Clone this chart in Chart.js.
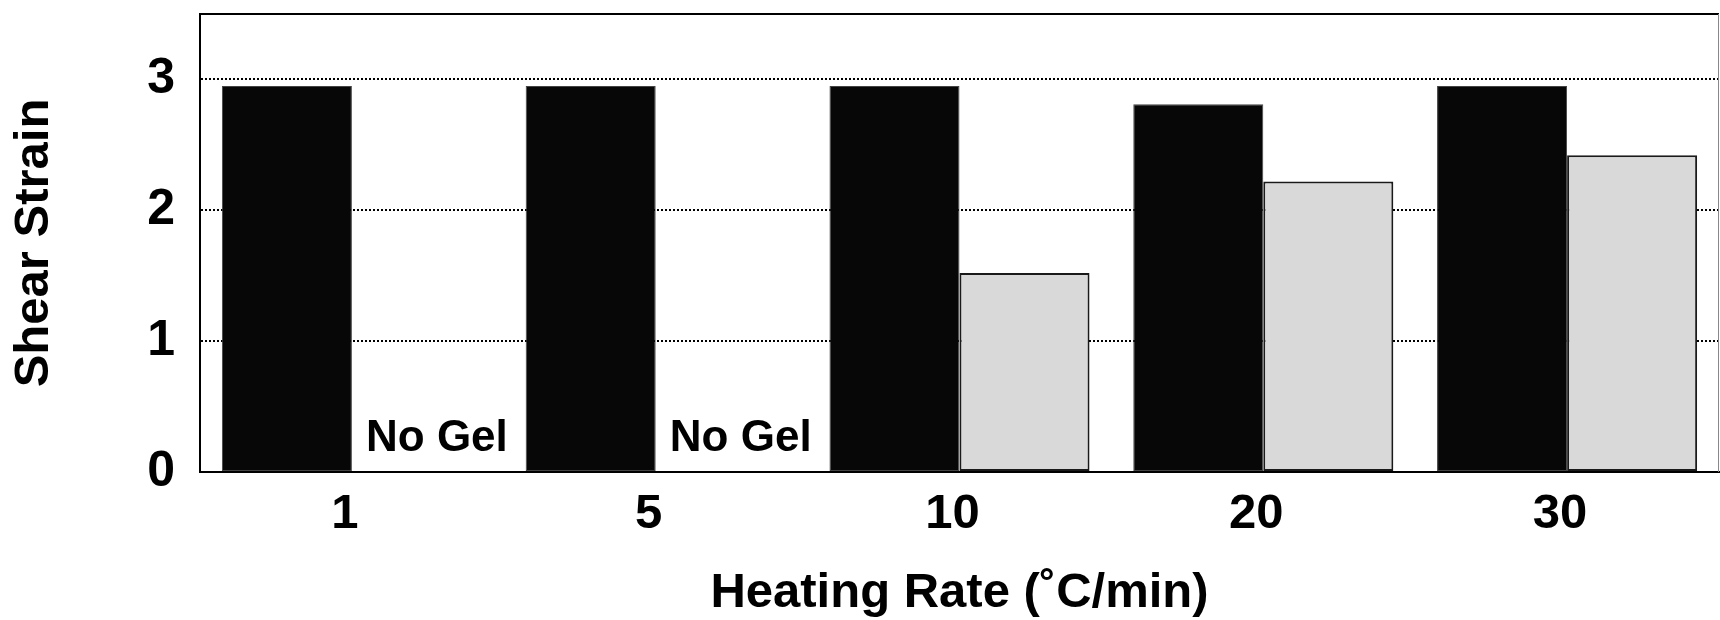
<!DOCTYPE html>
<html>
<head>
<meta charset="utf-8">
<script src="https://cdn.jsdelivr.net/npm/chart.js@4"></script>
<style>
  html, body { margin: 0; padding: 0; background: #fff; }
  #wrap { width: 1720px; height: 620px; position: relative; }
</style>
</head>
<body>
<div id="wrap"><canvas id="strainChart"></canvas></div>
<script>
// Data
const heatingRates = ['1', '5', '10', '20', '30'];
const strainBlack = [2.95, 2.95, 2.95, 2.81, 2.95];
const strainGray = [null, null, 1.52, 2.22, 2.42];
const gelNotes = ['No Gel', 'No Gel', '', '', ''];

const FONT = "'Liberation Sans', Arial, Helvetica, sans-serif";

// top / right frame of the plot box
const frame = {
    id: 'frame',
    beforeDatasetsDraw(chart) {
        const { ctx, chartArea: a } = chart;
        ctx.save();
        ctx.strokeStyle = '#000';
        ctx.lineWidth = 2;
        ctx.beginPath();
        ctx.moveTo(a.left, a.top);
        ctx.lineTo(a.right, a.top);
        ctx.stroke();
        ctx.strokeStyle = '#888';
        ctx.lineWidth = 1;
        ctx.beginPath();
        ctx.moveTo(a.right - 0.5, a.top);
        ctx.lineTo(a.right - 0.5, a.bottom);
        ctx.stroke();
        ctx.restore();
    }
};

// "No Gel" notes where the gray series is missing
const noGel = {
    id: 'noGel',
    afterDatasetsDraw(chart) {
        const { ctx } = chart;
        const meta = chart.getDatasetMeta(1);
        const y0 = chart.scales.y.getPixelForValue(0);
        ctx.save();
        ctx.font = 'bold 44px ' + FONT;
        ctx.fillStyle = '#000';
        ctx.textAlign = 'center';
        ctx.textBaseline = 'alphabetic';
        gelNotes.forEach((note, i) => {
            if (!note) return;
            const bar = meta.data[i];
            const x = bar && isFinite(bar.x) ? bar.x : chart.scales.x.getPixelForValue(i) + 65;
            ctx.fillText(note, x + 20, y0 - 21);
        });
        ctx.restore();
    }
};

new Chart(document.getElementById('strainChart').getContext('2d'), {
    type: 'bar',
    data: {
        labels: heatingRates,
        datasets: [
            {
                label: 'Series 1',
                data: strainBlack,
                backgroundColor: '#070707',
                borderColor: '#444',
                borderWidth: 1,
                borderSkipped: false,
                categoryPercentage: 0.856,
                barPercentage: 1.0
            },
            {
                label: 'Series 2',
                data: strainGray,
                backgroundColor: '#d9d9d9',
                borderColor: '#1a1a1a',
                borderWidth: 2,
                borderSkipped: false,
                categoryPercentage: 0.856,
                barPercentage: 1.0
            }
        ]
    },
    options: {
        responsive: true,
        maintainAspectRatio: false,
        animation: false,
        layout: { padding: { top: 14, right: 1, left: 0, bottom: 0 } },
        plugins: {
            legend: { display: false },
            tooltip: { enabled: false }
        },
        scales: {
            x: {
                grid: { display: false, drawTicks: false },
                border: { display: true, color: '#000', width: 2 },
                ticks: {
                    color: '#000',
                    padding: 13,
                    labelOffset: -7,
                    font: { family: FONT, size: 49, weight: 'bold' }
                },
                title: {
                    display: true,
                    text: 'Heating Rate (˚C/min)',
                    color: '#000',
                    padding: { top: 0, bottom: 0 },
                    font: { family: FONT, size: 49, weight: 'bold', lineHeight: 1.1 }
                },
                afterFit(scale) {
                    scale.height = 148;
                    scale.paddingLeft = 0;
                    scale.paddingRight = 0;
                }
            },
            y: {
                min: 0,
                max: 3.5,
                grid: {
                    drawTicks: false,
                    lineWidth: 2,
                    color: ctx => (ctx.tick && ctx.tick.value > 0 && ctx.tick.value <= 3) ? '#000' : 'rgba(0,0,0,0)'
                },
                border: { display: true, color: '#000', width: 2, dash: [2, 2] },
                ticks: {
                    stepSize: 1,
                    includeBounds: false,
                    color: '#000',
                    padding: 25,
                    font: { family: FONT, size: 50, weight: 'bold' }
                },
                title: {
                    display: true,
                    text: 'Shear Strain',
                    color: '#000',
                    padding: { top: 5, bottom: 0 },
                    font: { family: FONT, size: 49, weight: 'bold' }
                },
                afterFit(scale) {
                    scale.width = 200;
                    scale.paddingTop = 0;
                    scale.paddingBottom = 0;
                }
            }
        }
    },
    plugins: [frame, noGel]
});
</script>
</body>
</html>
